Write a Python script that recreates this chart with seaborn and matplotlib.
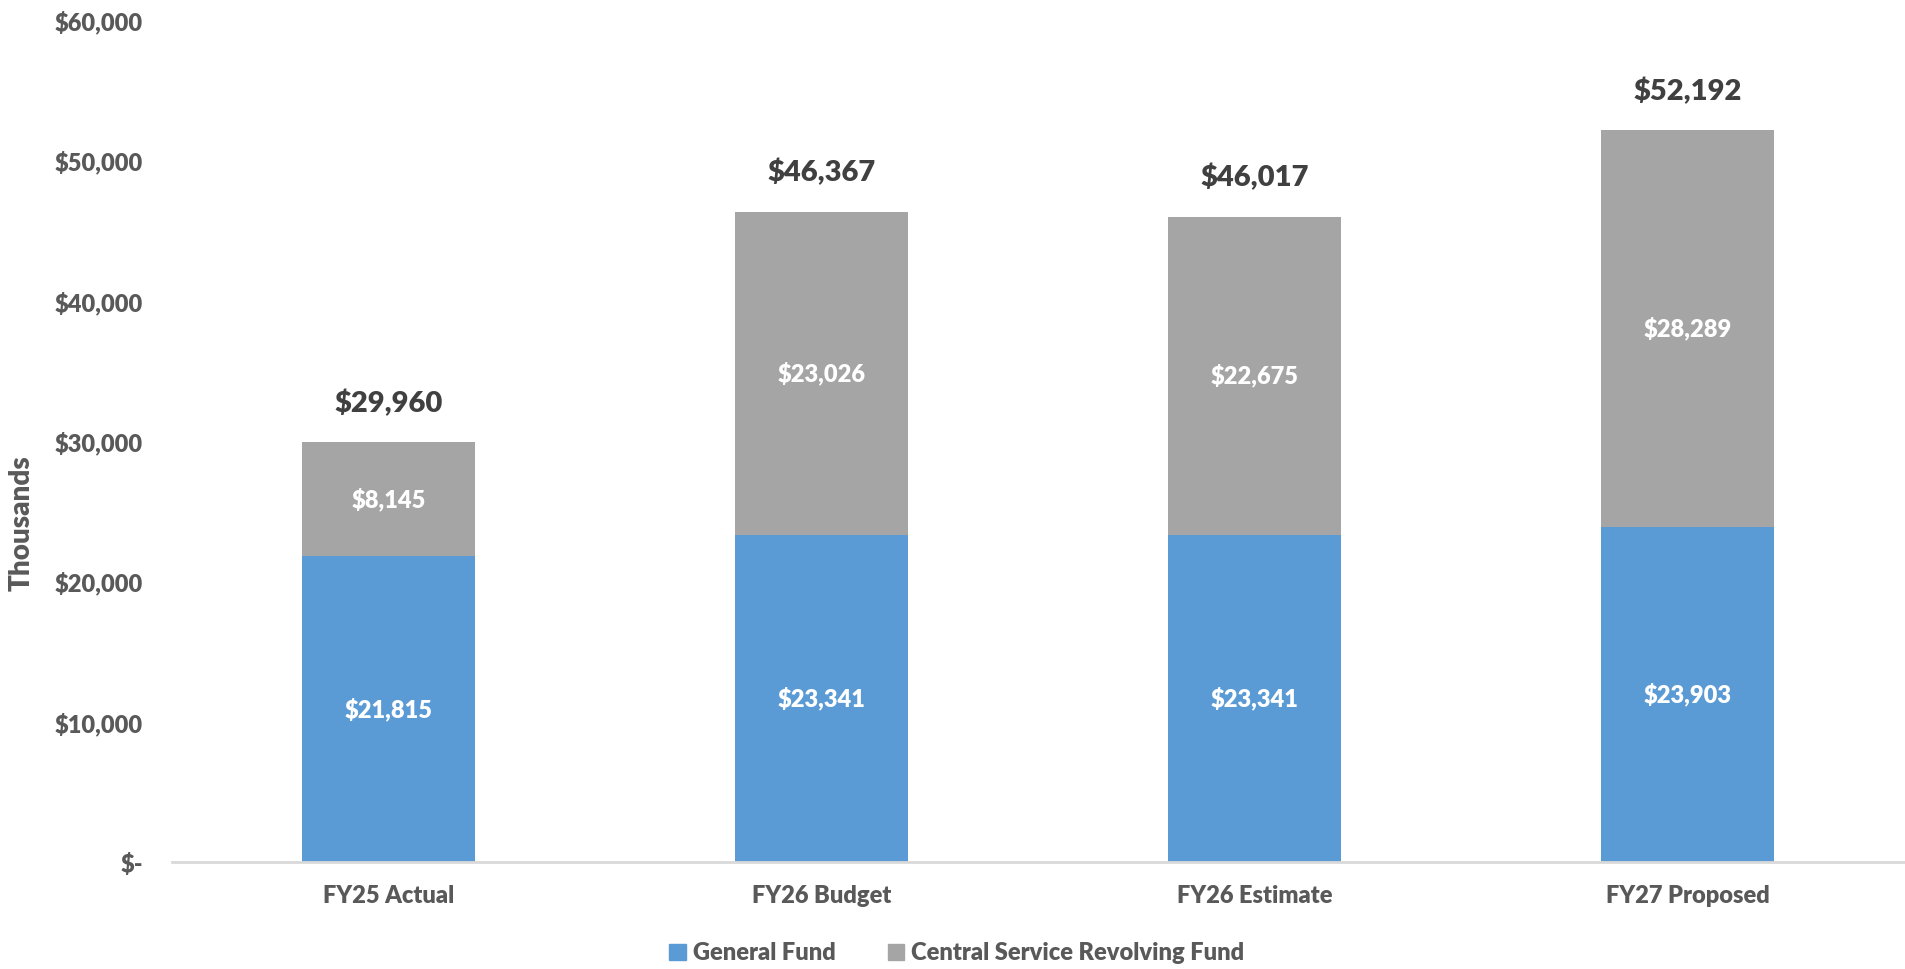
import numpy as np
import pandas as pd
import matplotlib
matplotlib.use("Agg")
import matplotlib.pyplot as plt
import seaborn as sns
from matplotlib.patches import Patch

# data (thousands)
years = ["FY25 Actual", "FY26 Budget", "FY26 Estimate", "FY27 Proposed"]
general_fund = [21815, 23341, 23341, 23903]
central_service = [8145, 23026, 22675, 28289]
total_labels = [29960, 46367, 46017, 52192]

blue = "#5B9BD5"
gray = "#A5A5A5"
txt = "#595959"
W = 800  # heavy weight, closer to the Calibri bold in the reference

sns.set_theme(style="white")
plt.rcParams['font.family'] = 'Lato'
plt.rcParams['font.weight'] = W

df = pd.DataFrame({
    "year": years,
    "gf": general_fund,
    "csrf": central_service,
})
df["total"] = df["gf"] + df["csrf"]

fig = plt.figure(figsize=(19.06, 9.69), dpi=100)
ax = fig.add_axes([0.0902, 0.110, 0.9088, 0.869])

# stacked: draw totals in gray, general fund in blue on top
sns.barplot(data=df, x="year", y="total", color=gray, width=0.4,
            saturation=1, ax=ax, edgecolor="none")
sns.barplot(data=df, x="year", y="gf", color=blue, width=0.4,
            saturation=1, ax=ax, edgecolor="none")

for i in range(len(years)):
    g = general_fund[i]
    c = central_service[i]
    ax.text(i, g / 2, f"${g:,}", ha="center", va="center",
            color="white", fontsize=17, fontweight=W)
    ax.text(i, g + c / 2, f"${c:,}", ha="center", va="center",
            color="white", fontsize=17, fontweight=W)
    ax.text(i, g + c + 1800, f"${total_labels[i]:,}", ha="center",
            va="bottom", color="#404040", fontsize=21, fontweight=W)

ax.set_ylim(0, 60000)
ax.set_xlim(-0.5, 3.5)
ticks = np.arange(0, 60001, 10000)
ax.set_yticks(ticks)
ax.set_yticklabels(["$-" if t == 0 else f"${t:,}" for t in ticks],
                   color=txt, fontsize=17, fontweight=W)
ax.set_xticks(range(len(years)))
ax.set_xticklabels(years, color=txt, fontsize=17, fontweight=W)
ax.tick_params(axis="y", length=0, pad=21)
ax.tick_params(axis="x", length=0, pad=16.5)
ax.set_xlabel("")
ax.set_ylabel("Thousands", color=txt, fontsize=20, fontweight=W)
ax.yaxis.set_label_coords(-0.079, 0.403)

for s in ["top", "right", "left"]:
    ax.spines[s].set_visible(False)
ax.spines["bottom"].set_color("#D9D9D9")
ax.spines["bottom"].set_linewidth(2)

handles = [Patch(color=blue, label="General Fund"),
           Patch(color=gray, label="Central Service Revolving Fund")]
fig.legend(handles=handles, loc="center", bbox_to_anchor=(0.502, 0.016),
           ncol=2, frameon=False, handlelength=0.7,
           handleheight=0.7, columnspacing=2.2, handletextpad=0.3,
           labelcolor=txt, prop={"family": "Lato", "weight": W, "size": 17})

fig.savefig("out.png", dpi=100)
